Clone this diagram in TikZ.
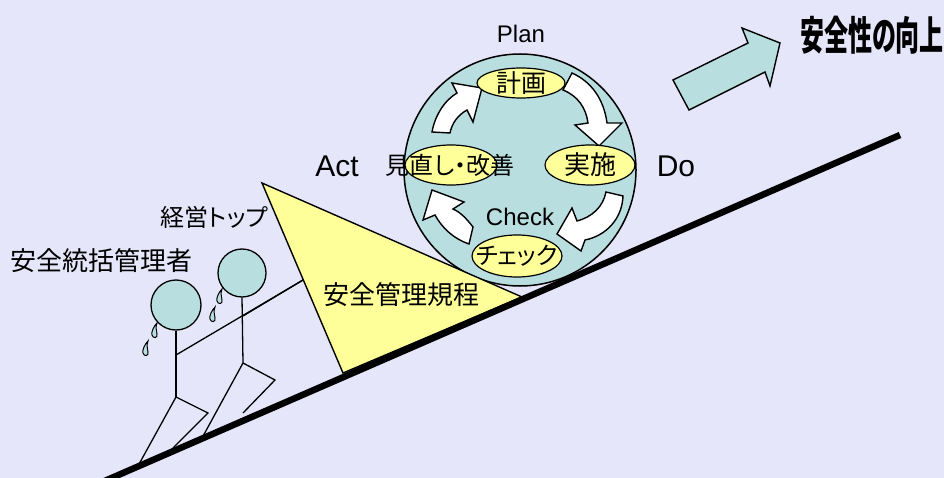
\documentclass[tikz,border=0pt]{standalone}
\usepackage{fontspec}
\setmainfont{Liberation Sans}
\newfontfamily\jp{Noto Sans CJK JP}[RawFeature=+palt]
\usetikzlibrary{shapes.geometric}
\definecolor{bgcol}{RGB}{230,230,250}
\definecolor{aqua}{RGB}{184,222,224}
\definecolor{paleyellow}{RGB}{255,255,153}

\begin{document}
\begin{tikzpicture}[x=1pt,y=-1pt,
  outline/.style={draw=black,line width=1.4pt,line join=miter},
  stick/.style={draw=black,line width=1.3pt},
  stage/.style={ellipse,draw=black,line width=1.2pt,fill=paleyellow,inner sep=0pt},
  jplabel/.style={inner sep=0pt,font=\jp\fontsize{#1}{#1}\selectfont},
  jplabel/.default=25,
  latin/.style={inner sep=0pt,font=\fontsize{#1}{#1}\selectfont},
  latin/.default=24,
  head/.style={circle,draw=black,line width=1.3pt,fill=aqua,minimum size=#1,inner sep=0pt},
  pics/sweat/.style={code={
    \draw[line width=1pt,fill=aqua] (2,-8) .. controls (-1,-5) and (-4,1) .. (-3,4)
      .. controls (-2,8) and (3,7) .. (2,3) .. controls (2,0) and (0,-3) .. (2,-8) -- cycle;}}
]
% background
\fill[bgcol] (0,0) rectangle (944,478);
\useasboundingbox (0,0) rectangle (944,478);

% PDCA cycle disc
\node[circle,draw=black,line width=1.5pt,fill=aqua,minimum size=232pt,inner sep=0pt] (cycle) at (520,170) {};

% curved block arrows around the cycle
\draw[outline,fill=white] (572,73) .. controls (592,82) and (604,100) .. (607,123)
  -- (622,123) -- (599,146) -- (575,125) -- (588,123)
  .. controls (586,108) and (578,96) .. (563,90) -- cycle;
\draw[outline,fill=white] (606,192) -- (623,196) .. controls (622,220) and (605,236) .. (585,240)
  -- (581,251) -- (557,234) -- (572,208) -- (577,221)
  .. controls (592,217) and (603,207) .. (606,192) -- cycle;
\draw[outline,fill=white] (469,244) -- (473,227) .. controls (466,218) and (460,212) .. (453,209)
  -- (464,202) -- (432,190) -- (423,220) -- (435,215)
  .. controls (442,228) and (454,239) .. (469,244) -- cycle;
\draw[outline,fill=white] (432,132) .. controls (435,115) and (445,100) .. (457,93)
  -- (452,83) -- (482,88) -- (473,122) -- (467,110)
  .. controls (458,115) and (452,123) .. (450,133) -- cycle;

% wedge holding the cycle
\draw[outline,fill=paleyellow] (262,183) coordinate (wtop) -- (522,297) coordinate (wright)
  -- (343,373) coordinate (wbottom) -- cycle;
\coordinate (grip) at (303,280);
\node[jplabel=26] (rules) at (401,295) {安全管理規程};

% stages
\node[stage,minimum width=88pt,minimum height=30pt] (plan) at (521,83) {};
\node[jplabel] at (plan) {計画};
\node[stage,minimum width=90pt,minimum height=40pt] (do) at (590,165) {};
\node[jplabel=26] at (do) {実施};
\node[stage,minimum width=92pt,minimum height=40pt] (act) at (451,165) {};
\node[jplabel=24] at (450,165) {見直し・改善};
\node[stage,minimum width=90pt,minimum height=42pt] (check) at (517,256) {};
\node[jplabel=24] at (check) {チェック};

% stage captions
\node[latin] (plancap) at (521,34) {Plan};
\node[latin] (checkcap) at (520,217) {Check};
\node[latin=30] (actcap) at (337,166) {Act};
\node[latin=30] (docap) at (676,166) {Do};

% left figure
\node[head=50pt] (headA) at (176,305) {};
\coordinate (hipA) at (176,397);
\draw[stick] (headA.south) -- (hipA);
\draw[stick] (hipA) -- (138,466);
\draw[stick] (hipA) -- (208,413) -- (173,448);
\draw[stick] (176,355) -- (grip);
\pic at (155,331) {sweat};
\pic at (146,349) {sweat};

% right figure
\node[head=48pt] (headB) at (242,273) {};
\coordinate (hipB) at (243,363);
\draw[stick] (headB.south) -- (hipB);
\draw[stick] (hipB) -- (202,438);
\draw[stick] (hipB) -- (275,380) -- (243,413);
\draw[stick] (243,316) -- (grip);
\pic at (220,297) {sweat};
\pic at (213,315) {sweat};

\node[jplabel=24] (top) at (214,217) {経営トップ};
\node[jplabel=26] (chief) at (101,261) {安全統括管理者};

% slope
\draw[line width=6.5pt] (100,483) -- (900,135);

% improvement arrow and goal
\draw[outline,fill=aqua] (673,80) coordinate (ta) -- (748,43) -- (742,28) -- (780,43)
  -- (770,86) -- (765,72) -- (689,110) -- cycle;
\node[inner sep=0pt,xscale=0.6,font=\jp\bfseries\fontsize{40}{40}\selectfont] (goal) at (872,35) {安全性の向上};
\end{tikzpicture}
\end{document}
